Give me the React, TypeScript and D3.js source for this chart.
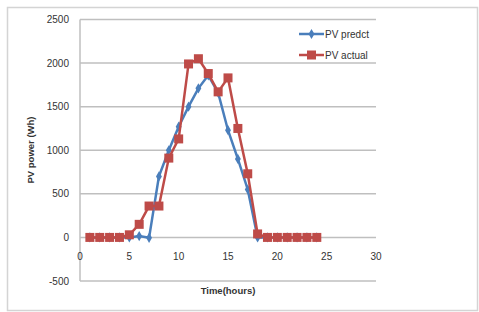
import React, { useEffect, useRef } from "react";
import * as d3 from "d3";

// hours of the day
const hours = [1, 2, 3, 4, 5, 6, 7, 8, 9, 10, 11, 12, 13, 14, 15, 16, 17, 18, 19, 20, 21, 22, 23, 24];
const pvPredict = [0, 0, 0, 0, 0, 15, -5, 700, 1000, 1270, 1500, 1710, 1860, 1660, 1230, 900, 550, 0, 0, 0, 0, 0, 0, 0];
const pvActual = [0, 0, 0, 0, 30, 150, 360, 360, 910, 1130, 1990, 2050, 1880, 1670, 1830, 1250, 730, 40, 0, 0, 0, 0, 0, 0];
const xTicks = [0, 5, 10, 15, 20, 25, 30];
const yTicks = [-500, 0, 500, 1000, 1500, 2000, 2500];

const BLUE = "#4a7ebb";
const RED = "#be4b48";

const App = () => {
  const svgRef = useRef<SVGSVGElement>(null);

  useEffect(() => {
    const svg = d3.select(svgRef.current);
    svg.selectAll("*").remove();

    const font = "'Liberation Sans', Arial, sans-serif";

    // outer frame
    svg
      .append("rect")
      .attr("x", 7.5)
      .attr("y", 7.5)
      .attr("width", 470)
      .attr("height", 303)
      .attr("fill", "#fff")
      .attr("stroke", "#d4d4d4")
      .attr("stroke-width", 1.5);

    const x = d3.scaleLinear().domain([0, 30]).range([80, 376]);
    const y = d3.scaleLinear().domain([-500, 2500]).range([281, 19.5]);

    // horizontal grid
    svg
      .append("g")
      .selectAll("line")
      .data(yTicks)
      .enter()
      .append("line")
      .attr("x1", x(0))
      .attr("x2", x(30))
      .attr("y1", (d) => y(d))
      .attr("y2", (d) => y(d))
      .attr("stroke", "#bfbfbf")
      .attr("stroke-width", 1.5);

    // left axis line
    svg
      .append("line")
      .attr("x1", x(0))
      .attr("x2", x(0))
      .attr("y1", y(2500))
      .attr("y2", y(-500))
      .attr("stroke", "#bfbfbf")
      .attr("stroke-width", 1.5);

    // y tick labels
    svg
      .append("g")
      .selectAll("text")
      .data(yTicks)
      .enter()
      .append("text")
      .attr("x", 69)
      .attr("y", (d) => y(d) + 3.5)
      .attr("text-anchor", "end")
      .style("font-family", font)
      .style("font-size", "10px")
      .style("fill", "#333")
      .text((d) => d);

    // x tick labels
    svg
      .append("g")
      .selectAll("text")
      .data(xTicks)
      .enter()
      .append("text")
      .attr("x", (d) => x(d))
      .attr("y", 260)
      .attr("text-anchor", "middle")
      .style("font-family", font)
      .style("font-size", "10px")
      .style("fill", "#333")
      .text((d) => d);

    // axis titles
    svg
      .append("text")
      .attr("x", 228)
      .attr("y", 294)
      .attr("text-anchor", "middle")
      .style("font-family", font)
      .style("font-size", "9.5px")
      .style("font-weight", "bold")
      .style("fill", "#333")
      .text("Time(hours)");

    svg
      .append("text")
      .attr("transform", "translate(34,150) rotate(-90)")
      .attr("text-anchor", "middle")
      .style("font-family", font)
      .style("font-size", "9.5px")
      .style("font-weight", "bold")
      .style("fill", "#333")
      .text("PV power (Wh)");

    const line = d3
      .line<number>()
      .x((d, i) => x(hours[i]))
      .y((d) => y(d));

    // blue series: predicted
    svg
      .append("path")
      .datum(pvPredict)
      .attr("d", line)
      .attr("fill", "none")
      .attr("stroke", BLUE)
      .attr("stroke-width", 2.5);

    svg
      .append("g")
      .selectAll("path")
      .data(pvPredict)
      .enter()
      .append("path")
      .attr("d", d3.symbol(d3.symbolDiamond, 30)())
      .attr("transform", (d, i) => `translate(${x(hours[i])},${y(d)})`)
      .attr("fill", BLUE);

    // red series: actual
    svg
      .append("path")
      .datum(pvActual)
      .attr("d", line)
      .attr("fill", "none")
      .attr("stroke", RED)
      .attr("stroke-width", 2.5);

    svg
      .append("g")
      .selectAll("rect")
      .data(pvActual)
      .enter()
      .append("rect")
      .attr("x", (d, i) => x(hours[i]) - 4.5)
      .attr("y", (d) => y(d) - 4.5)
      .attr("width", 9)
      .attr("height", 9)
      .attr("fill", RED);

    // legend
    const legend = svg.append("g");
    const items = [
      { label: "PV predct", color: BLUE, sym: "diamond", ly: 34 },
      { label: "PV actual", color: RED, sym: "square", ly: 55 },
    ];
    items.forEach((it) => {
      legend
        .append("line")
        .attr("x1", 299)
        .attr("x2", 324)
        .attr("y1", it.ly)
        .attr("y2", it.ly)
        .attr("stroke", it.color)
        .attr("stroke-width", 2.5);
      if (it.sym === "diamond") {
        legend
          .append("path")
          .attr("d", d3.symbol(d3.symbolDiamond, 30)())
          .attr("transform", `translate(311.5,${it.ly})`)
          .attr("fill", it.color);
      } else {
        legend
          .append("rect")
          .attr("x", 307)
          .attr("y", it.ly - 4.5)
          .attr("width", 9)
          .attr("height", 9)
          .attr("fill", it.color);
      }
      legend
        .append("text")
        .attr("x", 325)
        .attr("y", it.ly + 3.5)
        .style("font-family", font)
        .style("font-size", "10px")
        .style("fill", "#333")
        .text(it.label);
    });
  }, []);

  return (
    <div style={{ position: "absolute", left: 0, top: 0 }}>
      <svg ref={svgRef} width={479} height={312} style={{ display: "block" }}></svg>
    </div>
  );
};

export default App;
